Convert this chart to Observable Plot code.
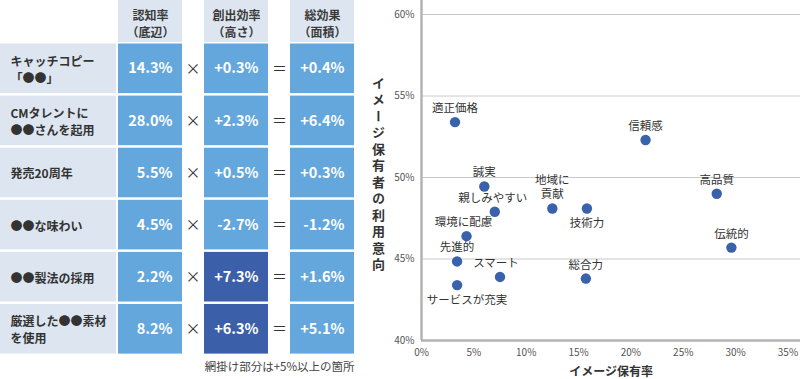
<!DOCTYPE html>
<html>
<head>
<meta charset="utf-8">
<script src="https://cdn.jsdelivr.net/npm/d3@7"></script>
<script src="https://cdn.jsdelivr.net/npm/@observablehq/plot@0.6"></script>
<style>
  html, body { margin: 0; padding: 0; background: #fff; }
  #wrap { position: relative; width: 800px; height: 379px; overflow: hidden; }
  #left { position: absolute; left: 0; top: 0; }
  #right { position: absolute; left: 360px; top: 0; }
  svg { display: block; }
</style>
</head>
<body>
<div id="wrap"><div id="left"></div><div id="right"></div></div>
<script>
// ---------- Table data ----------
const phrases = ["キャッチコピー\n「●●」", "CMタレントに\n●●さんを起用", "発売20周年", "●●な味わい", "●●製法の採用", "厳選した●●素材\nを使用"];
const awareness = [14.3, 28.0, 5.5, 4.5, 2.2, 8.2];
const efficiency = [0.3, 2.3, 0.5, -2.7, 7.3, 6.3];
const totalEffect = [0.4, 6.4, 0.3, -1.2, 1.6, 5.1];
const headers = ["認知率\n（底辺）", "創出効率\n（高さ）", "総効果\n（面積）"];
const operators = ["×", "＝"];
const caption = "網掛け部分は+5%以上の箇所";
const threshold = 5;

// ---------- Scatter data ----------
const attributes = ["適正価格", "信頼感", "誠実", "親しみやすい", "地域に\n貢献", "技術力", "環境に配慮", "先進的", "スマート", "サービスが充実", "総合力", "高品質", "伝統的"];
const imageRate = [3.2, 21.4, 6.0, 7.0, 12.5, 15.8, 4.3, 3.4, 7.5, 3.4, 15.7, 28.2, 29.6];
const usageIntent = [53.4, 52.3, 49.45, 47.9, 48.1, 48.1, 46.4, 44.85, 43.9, 43.4, 43.8, 49.0, 45.7];
const labelSide = ["top", "top", "top", "top", "top", "bottom", "top", "top", "top", "bottom", "top", "top", "top"];
const xTicks = [0, 5, 10, 15, 20, 25, 30, 35];
const yTicks = [40, 45, 50, 55, 60];
const xTitle = "イメージ保有率";
const yTitle = "イメージ保有者の利用意向";

// ---------- Styles / layout ----------
const FONT = "'Noto Sans CJK JP', 'Noto Sans', sans-serif";
const C_LIGHT = "#dde6f0";
const C_MID = "#63a7dc";
const C_DARK = "#3b5fa8";
const C_POINT = "#3a62ab";
const TXT = "#333";
const COL = { label: [0, 116], a: [118, 182], op1: 192.5, e: [204, 268], op2: 279, t: [290, 354] };
const dataCols = [COL.a, COL.e, COL.t];
const labelDx = { "サービスが充実": 10, "スマート": -4, "環境に配慮": -3, "親しみやすい": -2 };

const pct1 = v => v.toFixed(1) + "%";
const signed = v => (v >= 0 ? "+" : "") + v.toFixed(1) + "%";

const rows = phrases.map((p, i) => ({ i, phrase: p, a: awareness[i], e: efficiency[i], t: totalEffect[i] }));
const mid = d => d.i + 0.476;

const table = Plot.plot({
  width: 360, height: 379, margin: 0,
  x: { domain: [0, 360], range: [0, 360], axis: null },
  y: { domain: [0, 6], range: [43.5, 356.1], axis: null },
  style: { fontFamily: FONT, background: "#fff" },
  marks: [
    Plot.rect(headers, { x1: (d, i) => dataCols[i][0], x2: (d, i) => dataCols[i][1], y1: () => -0.835, y2: () => 0, insetBottom: 1.5, fill: C_LIGHT }),
    Plot.text(headers, { x: (d, i) => (dataCols[i][0] + dataCols[i][1]) / 2, y: () => -0.41, text: d => d, fontSize: 12, fontWeight: 600, fill: "#3a3a3a", lineHeight: 1.42 }),
    Plot.rect(rows, { x1: () => COL.label[0], x2: () => COL.label[1], y1: "i", y2: d => d.i + 1, insetBottom: 2.5, fill: C_LIGHT }),
    Plot.text(rows, { x: () => 10, y: mid, text: "phrase", textAnchor: "start", fontSize: 12, fontWeight: "bold", fill: TXT, lineHeight: 1.42 }),
    Plot.rect(rows, { x1: () => COL.a[0], x2: () => COL.a[1], y1: "i", y2: d => d.i + 1, insetBottom: 2.5, fill: C_MID }),
    Plot.text(rows, { x: () => COL.a[1] - 10, y: mid, text: d => pct1(d.a), textAnchor: "end", fontSize: 14.5, fontWeight: "bold", fill: "#fff" }),
    Plot.text(rows, { x: () => COL.op1, y: mid, text: () => operators[0], fontSize: 15, fill: TXT }),
    Plot.text(rows, { x: () => COL.op2, y: mid, text: () => operators[1], fontSize: 15, fill: TXT }),
    Plot.rect(rows, { x1: () => COL.e[0], x2: () => COL.e[1], y1: "i", y2: d => d.i + 1, insetBottom: 2.5, fill: d => d.e >= threshold ? C_DARK : C_MID }),
    Plot.text(rows, { x: () => COL.e[1] - 10, y: mid, text: d => signed(d.e), textAnchor: "end", fontSize: 14.5, fontWeight: "bold", fill: "#fff" }),
    Plot.rect(rows, { x1: () => COL.t[0], x2: () => COL.t[1], y1: "i", y2: d => d.i + 1, insetBottom: 2.5, fill: C_MID }),
    Plot.text(rows, { x: () => COL.t[1] - 10, y: mid, text: d => signed(d.t), textAnchor: "end", fontSize: 14.5, fontWeight: "bold", fill: "#fff" }),
    Plot.text([caption], { x: () => COL.t[1], y: () => 6.2, text: d => d, textAnchor: "end", fontSize: 11.5, fill: "#444" })
  ]
});

const pts = attributes.map((name, i) => ({ name, x: imageRate[i], y: usageIntent[i], side: labelSide[i] }));

const scatter = Plot.plot({
  width: 440, height: 379,
  marginLeft: 61, marginRight: 0, marginTop: 14, marginBottom: 39,
  style: { fontFamily: FONT, background: "#fff", color: "#555" },
  x: { domain: [0, 36.2] },
  y: { domain: [40, 60] },
  marks: [
    Plot.gridY(yTicks.slice(1), { stroke: "#c9c9c9", strokeOpacity: 1, strokeWidth: 1 }),
    Plot.axisY(yTicks, { tickSize: 0, tickPadding: 7, tickFormat: d => d + "%", fontSize: 10, fill: "#555", label: null }),
    Plot.axisX(xTicks, { tickSize: 0, tickPadding: 8, tickFormat: d => d + "%", fontSize: 10, fill: "#555", label: null }),
    Plot.ruleY([40], { stroke: "#b3b3b3", strokeWidth: 2.5 }),
    Plot.ruleX([0], { y1: 40, y2: 60.9, stroke: "#b3b3b3", strokeWidth: 2.5 }),
    Plot.dot(pts, { x: "x", y: "y", r: 5.2, fill: C_POINT, stroke: "none" }),
    Plot.text(pts.filter(d => d.side === "top"), { x: "x", y: "y", text: "name", lineAnchor: "bottom", dy: -10, fontSize: 11.5, fill: TXT, lineHeight: 1.3 }),
    Plot.text(pts.filter(d => d.side === "bottom"), { x: "x", y: "y", text: "name", lineAnchor: "top", dy: 10.5, fontSize: 11.5, fill: TXT }),
    Plot.text([xTitle], { frameAnchor: "bottom", dy: 35, text: d => d, fontSize: 12, fontWeight: "bold", fill: TXT }),
    Plot.text([yTitle], { frameAnchor: "left", textAnchor: "middle", dx: -43, dy: -6.5, text: d => d, fontSize: 13, fontWeight: "bold", fill: TXT })
  ]
});

// per-label small horizontal nudges
d3.select(scatter).selectAll("text").each(function () {
  const t = this.textContent;
  if (labelDx[t] !== undefined) {
    const cur = this.getAttribute("transform") || "";
    this.setAttribute("transform", cur + ` translate(${labelDx[t]},0)`);
  }
});
// vertical y-axis title
d3.select(scatter).selectAll("text")
  .filter(function () { return this.textContent === yTitle; })
  .attr("dy", null)
  .attr("text-anchor", "middle")
  .style("writing-mode", "vertical-rl")
  .style("letter-spacing", "3.5px");

document.getElementById("left").append(table);
document.getElementById("right").append(scatter);
</script>
</body>
</html>
